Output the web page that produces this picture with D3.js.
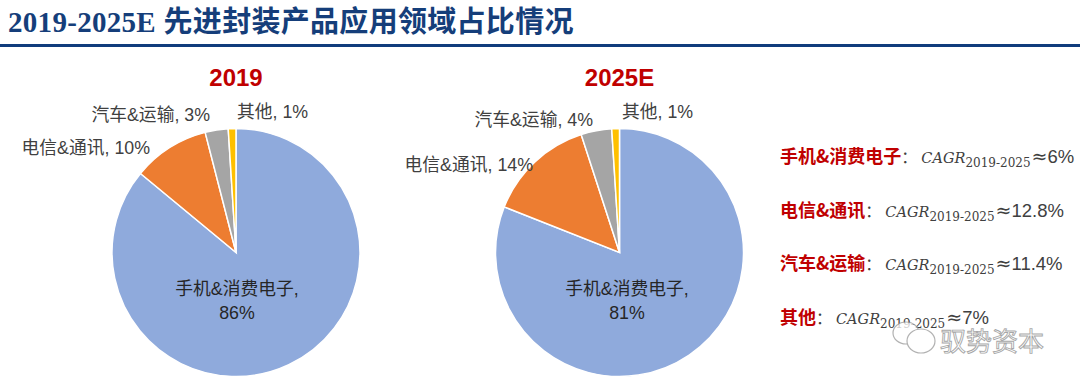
<!DOCTYPE html>
<html><head><meta charset="utf-8">
<script src="https://cdn.jsdelivr.net/npm/d3@7"></script>
<style>
html,body{margin:0;padding:0;background:#fff;}
svg{display:block;}
</style>
</head><body>
<svg id="chart" width="1080" height="383"></svg>
<script>
// ---------- data ----------
const categories = ["手机&消费电子", "电信&通讯", "汽车&运输", "其他"];
const share2019 = [86, 10, 3, 1];
const share2025 = [81, 14, 4, 1];
const pieTitles = ["2019", "2025E"];
const cagrLabels = ["手机&消费电子", "电信&通讯", "汽车&运输", "其他"];
const cagrValues = ["6%", "12.8%", "11.4%", "7%"];
const titleText = "2019-2025E 先进封装产品应用领域占比情况";

// ---------- style / layout ----------
const colors = ["#8FAADC", "#ED7D31", "#A5A5A5", "#FFC000"];
const W = 1080, H = 383;
const svg = d3.select("#chart");
const labelFont = "'Liberation Sans','Noto Sans CJK SC',sans-serif";

// title
svg.append("text")
  .attr("x", 8).attr("y", 32)
  .attr("font-family", "'Liberation Serif','Noto Sans CJK SC',serif")
  .attr("font-weight", "bold").attr("font-size", 29)
  .attr("letter-spacing", 0.3)
  .attr("fill", "#153E7A")
  .text(titleText);
svg.append("rect").attr("x", 0).attr("y", 44).attr("width", W).attr("height", 3).attr("fill", "#103C7C");

const pies = [
  {title: pieTitles[0], values: share2019, cx: 236, cy: 252.5,
   outer: [null, {dx: -86, dy: -98.5, anchor: "end"}, {dx: -26, dy: -131.5, anchor: "end"}, {dx: 1, dy: -134.5, anchor: "start"}],
   inner: {dx: 1, dy: 36}},
  {title: pieTitles[1], values: share2025, cx: 619.5, cy: 252.5,
   outer: [null, {dx: -86.5, dy: -81.5, anchor: "end"}, {dx: -26.5, dy: -126.5, anchor: "end"}, {dx: 2.5, dy: -134.5, anchor: "start"}],
   inner: {dx: 7.5, dy: 36}}
];
const R = 124;
const pieGen = d3.pie().sort(null).startAngle(0).endAngle(2 * Math.PI);
const arcGen = d3.arc().innerRadius(0).outerRadius(R);

pies.forEach(p => {
  const g = svg.append("g").attr("transform", `translate(${p.cx},${p.cy})`);
  const arcs = pieGen(p.values);
  g.selectAll("path").data(arcs).join("path")
    .attr("d", arcGen)
    .attr("fill", (d, i) => colors[i])
    .attr("stroke", "#fff").attr("stroke-width", 1.5);

  // year title
  g.append("text").attr("x", 0).attr("y", -167)
    .attr("text-anchor", "middle")
    .attr("font-family", "'Liberation Sans',sans-serif")
    .attr("font-weight", "bold").attr("font-size", 24)
    .attr("fill", "#C00000").text(p.title);

  // outer labels
  arcs.forEach((d, i) => {
    const o = p.outer[i];
    if (!o) return;
    g.append("text").attr("x", o.dx).attr("y", o.dy)
      .attr("text-anchor", o.anchor)
      .attr("font-family", labelFont).attr("font-size", 17.8)
      .attr("fill", "#404040")
      .text(`${categories[i]}, ${p.values[i]}%`);
  });
  // inner label for largest slice
  const t = g.append("text").attr("text-anchor", "middle")
    .attr("font-family", labelFont).attr("font-size", 17.8).attr("fill", "#262626");
  t.append("tspan").attr("x", p.inner.dx).attr("y", p.inner.dy + 6).text(categories[0] + ",");
  t.append("tspan").attr("x", p.inner.dx).attr("y", p.inner.dy + 30).text(p.values[0] + "%");
});

// CAGR annotations
const lineY = d3.scalePoint().domain(d3.range(cagrLabels.length)).range([163, 324]);
cagrLabels.forEach((lab, i) => {
  const t = svg.append("text").attr("x", 780).attr("y", lineY(i));
  t.append("tspan").attr("font-family", "'Noto Sans CJK SC',sans-serif").attr("font-weight", "bold")
    .attr("font-size", 18).attr("fill", "#C00000").text(lab);
  t.append("tspan").attr("font-family", "'Noto Sans CJK SC',sans-serif")
    .attr("font-size", 16).attr("fill", "#404040").text("：");
  t.append("tspan").attr("font-family", "'DejaVu Serif',serif").attr("font-style", "italic")
    .attr("dx", 4).attr("font-size", 14.5).attr("fill", "#404040").text("CAGR");
  t.append("tspan").attr("font-family", "'DejaVu Serif',serif")
    .attr("font-size", 12).attr("dy", 4).attr("fill", "#404040").text("2019-2025");
  t.append("tspan").attr("font-family", "'DejaVu Sans',sans-serif")
    .attr("font-size", 19).attr("dy", -4).attr("dx", 1).attr("fill", "#404040").text("≈");
  t.append("tspan").attr("font-family", labelFont)
    .attr("font-size", 18.5).attr("fill", "#404040").text(cagrValues[i]);
});

// watermark
const wm = svg.append("g").attr("opacity", 0.75);
wm.append("ellipse").attr("cx", 906).attr("cy", 333).attr("rx", 13).attr("ry", 11)
  .attr("fill", "#fff").attr("stroke", "#999").attr("stroke-width", 1.2);
wm.append("ellipse").attr("cx", 921).attr("cy", 341).attr("rx", 14).attr("ry", 12)
  .attr("fill", "#fff").attr("stroke", "#999").attr("stroke-width", 1.2);
wm.append("text").attr("x", 940).attr("y", 351)
  .attr("font-family", "'Noto Sans CJK SC',sans-serif").attr("font-size", 26)
  .attr("fill", "#fff").attr("stroke", "#8a8a8a").attr("stroke-width", 0.9)
  .text("驭势资本");
</script>
</body></html>
